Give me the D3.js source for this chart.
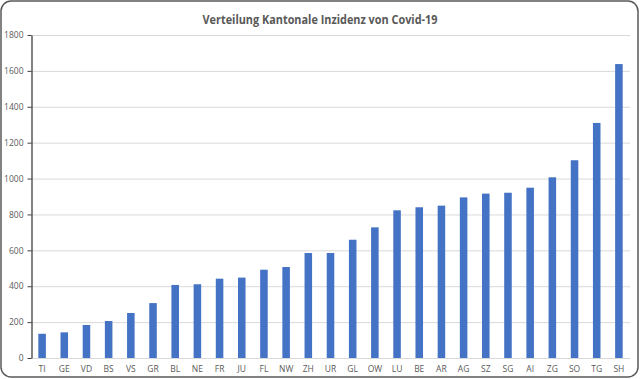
<!DOCTYPE html>
<html><head><meta charset="utf-8">
<script src="https://cdn.jsdelivr.net/npm/d3@7"></script>
<style>html,body{margin:0;padding:0;background:#fff;}</style>
</head><body>
<svg id="c" width="640" height="379"></svg>
<script>
const cats = ["TI","GE","VD","BS","VS","GR","BL","NE","FR","JU","FL","NW","ZH","UR","GL","OW","LU","BE","AR","AG","SZ","SG","AI","ZG","SO","TG","SH"];
const values = [135,143,184,206,251,306,407,411,442,448,492,507,585,585,659,728,823,840,849,895,916,921,949,1007,1102,1310,1638];
const yTicks = [0,200,400,600,800,1000,1200,1400,1600,1800];
const title = "Verteilung Kantonale Inzidenz von Covid-19";

const svg = d3.select("#c");
svg.append("rect").attr("x",1).attr("y",1).attr("width",637).attr("height",376)
  .attr("rx",10).attr("fill","#fff").attr("stroke","#595959").attr("stroke-width",1.5);

const mL = 31, mR = 630, mT = 35, mB = 358;
const x = d3.scaleBand().domain(cats).range([mL,mR]).paddingInner(0.66).paddingOuter(0.33);
const y = d3.scaleLinear().domain([0,1800]).range([mB,mT]);

// gridlines
svg.append("g").selectAll("line").data(yTicks).join("line")
  .attr("x1",mL).attr("x2",mR).attr("y1",d=>y(d)+0.5).attr("y2",d=>y(d)+0.5)
  .attr("stroke","#d9d9d9").attr("stroke-width",1);

// bars
svg.append("g").selectAll("rect").data(values).join("rect")
  .attr("x",(d,i)=>x(cats[i])).attr("width",x.bandwidth())
  .attr("y",d=>y(d)).attr("height",d=>mB-y(d))
  .attr("fill","#4472C4");

// y axis
const ya = svg.append("g").attr("transform",`translate(${mL+0.5},0)`)
  .call(d3.axisLeft(y).tickValues(yTicks).tickFormat(d3.format("d")).tickSize(4).tickPadding(4).tickSizeOuter(0));
ya.select(".domain").attr("stroke","#404040").attr("stroke-width",1.3);
ya.selectAll(".tick line").attr("stroke","#404040");
ya.selectAll("text").attr("fill","#595959").style("font-family","'Open Sans', sans-serif").style("font-size","8.5px");

// x axis labels
const xa = svg.append("g").attr("transform",`translate(0,${mB})`)
  .call(d3.axisBottom(x).tickSize(0).tickPadding(8));
xa.select(".domain").remove();
xa.selectAll("text").attr("fill","#595959").style("font-family","'Open Sans', sans-serif").style("font-size","8.5px");

svg.append("text").attr("x",320).attr("y",24).attr("text-anchor","middle")
  .attr("fill","#595959").style("font-family","'Open Sans', sans-serif").style("font-weight","bold")
  .style("font-size","13px").attr("textLength",235).attr("lengthAdjust","spacingAndGlyphs").text(title);
</script>
</body></html>
